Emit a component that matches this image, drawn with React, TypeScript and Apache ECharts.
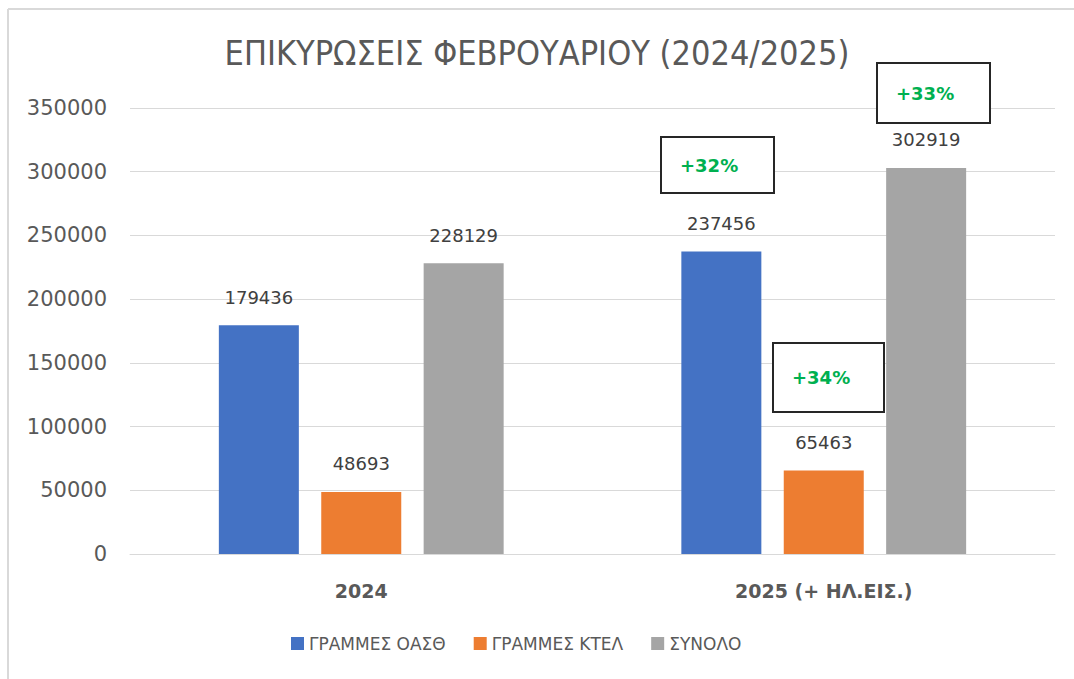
import React, { useEffect, useRef } from "react";
import * as echarts from "echarts";

const categories = ["2024", "2025 (+ ΗΛ.ΕΙΣ.)"];
const seriesNames = ["ΓΡΑΜΜΕΣ ΟΑΣΘ", "ΓΡΑΜΜΕΣ ΚΤΕΛ", "ΣΥΝΟΛΟ"];
const oasthValues = [179436, 237456];
const ktelValues = [48693, 65463];
const totalValues = [228129, 302919];
const seriesColors = ["#4472C4", "#ED7D31", "#A5A5A5"];
const yTicks = [0, 50000, 100000, 150000, 200000, 250000, 300000, 350000];
const changeLabels = ["+32%", "+34%", "+33%"];

const TXT = "#595959";

export default function App() {
  const ref = useRef<HTMLDivElement>(null);
  useEffect(() => {
    if (!ref.current) return;
    const chart = echarts.init(ref.current, null, { renderer: "svg" });
    const values = [oasthValues, ktelValues, totalValues];
    const box = (x: number, y: number, w: number, h: number, t: string, tx: number) => ({
      type: "group",
      children: [
        { type: "rect", shape: { x, y, width: w, height: h }, style: { fill: "#fff", stroke: "#262626", lineWidth: 2 }, z: 100 },
        {
          type: "text",
          x: tx,
          y: y + h / 2,
          style: { text: t, fill: "#00B050", font: "bold 18px 'DejaVu Sans'", textVerticalAlign: "middle", textAlign: "left" },
          z: 101,
        },
      ],
    });
    chart.setOption({
      animation: false,
      backgroundColor: "#fff",
      title: {
        text: "ΕΠΙΚΥΡΩΣΕΙΣ ΦΕΒΡΟΥΑΡΙΟΥ (2024/2025)",
        left: "center",
        top: 31,
        textStyle: { color: TXT, fontSize: 34, fontWeight: "normal", fontFamily: "'DejaVu Sans Condensed', 'DejaVu Sans'" },
      },
      legend: {
        bottom: 22,
        left: 286,
        itemWidth: 13,
        itemHeight: 13,
        itemGap: 28,
        icon: "rect",
        textStyle: { color: TXT, fontSize: 17, fontFamily: "'DejaVu Sans'" },
        data: seriesNames,
      },
      grid: { left: 130, right: 19, top: 108, bottom: 125 },
      xAxis: {
        type: "category",
        data: categories,
        axisLine: { lineStyle: { color: "#d9d9d9", width: 1 } },
        axisTick: { show: false },
        axisLabel: { color: TXT, fontSize: 19, fontWeight: "bold", fontFamily: "'DejaVu Sans'", margin: 27 },
      },
      yAxis: {
        type: "value",
        min: 0,
        max: yTicks[yTicks.length - 1],
        interval: yTicks[1] - yTicks[0],
        axisLine: { show: false },
        axisTick: { show: false },
        splitLine: { lineStyle: { color: "#d9d9d9", width: 1 } },
        axisLabel: { color: TXT, fontSize: 21, fontFamily: "'DejaVu Sans'", margin: 23, formatter: (v: number) => String(v) },
      },
      series: seriesNames.map((name, i) => ({
        name,
        type: "bar",
        data: values[i],
        barWidth: 80,
        barGap: "28%",
        itemStyle: { color: seriesColors[i] },
        label: {
          show: true,
          position: "top",
          distance: 19,
          color: "#404040",
          fontSize: 18,
          fontFamily: "'DejaVu Sans'",
        },
      })),
      graphic: [
        { type: "line", shape: { x1: 8, y1: 9, x2: 1074, y2: 9 }, style: { stroke: "#d9d9d9", lineWidth: 2 } },
        { type: "line", shape: { x1: 8, y1: 9, x2: 8, y2: 679 }, style: { stroke: "#d9d9d9", lineWidth: 2 } },
        box(661, 137, 113, 56, changeLabels[0], 680),
        box(773, 343, 111, 69, changeLabels[1], 792),
        box(877, 63, 113, 60, changeLabels[2], 896),
      ],
    });
    return () => chart.dispose();
  }, []);
  return <div ref={ref} style={{ position: "absolute", left: 0, top: 0, width: 1074, height: 679 }} />;
}
